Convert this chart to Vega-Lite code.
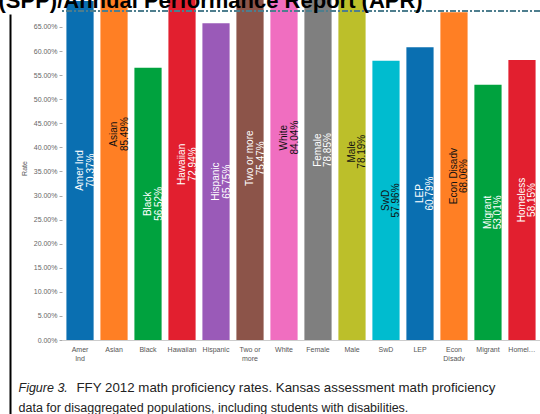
{
  "$schema": "https://vega.github.io/schema/vega-lite/v6.json",
  "width": 478,
  "height": 414,
  "autosize": {"type": "none"},
  "padding": {"left": 62, "top": 0, "right": 0, "bottom": 0},
  "background": "white",
  "config": {"view": {"stroke": null}, "font": "Liberation Sans"},
  "data": {
    "values": [
      {"group": "Amer Ind", "rate": 70.37},
      {"group": "Asian", "rate": 85.49},
      {"group": "Black", "rate": 56.52},
      {"group": "Hawaiian", "rate": 72.94},
      {"group": "Hispanic", "rate": 65.75},
      {"group": "Two or more", "rate": 75.47},
      {"group": "White", "rate": 84.04},
      {"group": "Female", "rate": 78.85},
      {"group": "Male", "rate": 78.19},
      {"group": "SwD", "rate": 57.96},
      {"group": "LEP", "rate": 60.79},
      {"group": "Econ Disadv", "rate": 68.06},
      {"group": "Migrant", "rate": 53.01},
      {"group": "Homeless", "rate": 58.15}
    ]
  },
  "layer": [
    {
      "layer": [
        {
          "mark": {"type": "bar", "clip": true},
          "encoding": {
            "x": {
              "field": "group", "type": "nominal", "sort": null,
              "scale": {"paddingInner": 0.2, "paddingOuter": 0.13},
              "axis": {
                "orient": "bottom", "offset": -74,
                "title": "FFY 2012 math proficiency rates. Kansas assessment math proficiency",
                "labelExpr": "datum.label == 'Amer Ind' ? ['Amer', 'Ind'] : datum.label == 'Two or more' ? ['Two or', 'more'] : datum.label == 'Econ Disadv' ? ['Econ', 'Disadv'] : datum.label",
                "labelAngle": 0, "labelFontSize": 7, "labelColor": "#555", "labelPadding": 5,
                "labelLimit": 30, "labelLineHeight": 9, "ticks": false,
                "domain": true, "domainColor": "#cccccc",
                "titleX": 14, "titleY": 51, "titleAlign": "left", "titleAnchor": "start",
                "titleBaseline": "alphabetic", "titleFontSize": 13.3, "titleFontWeight": "normal",
                "titleColor": "#222"
              }
            },
            "y": {
              "field": "rate", "type": "quantitative",
              "scale": {"domain": [0, 70.6], "range": [340, 0], "nice": false, "clamp": true},
              "axis": {
                "title": "Rate",
                "values": [0, 5, 10, 15, 20, 25, 30, 35, 40, 45, 50, 55, 60, 65],
                "labelExpr": "format(datum.value, '.2f') + '%'",
                "labelFontSize": 7, "labelColor": "#666", "labelPadding": 2,
                "tickSize": 3, "tickColor": "#aaaaaa", "domain": false, "grid": false,
                "titleFontSize": 7, "titleColor": "#555", "titleFontWeight": "normal",
                "titleX": -38, "titleY": 168, "titleAlign": "center", "titleBaseline": "middle", "titleAngle": 270
              }
            },
            "color": {
              "field": "group", "type": "nominal",
              "scale": {
                "domain": ["Amer Ind", "Asian", "Black", "Hawaiian", "Hispanic", "Two or more", "White", "Female", "Male", "SwD", "LEP", "Econ Disadv", "Migrant", "Homeless"],
                "range": ["#0a6fb1", "#ff7f24", "#00a23e", "#e21f2f", "#9a5ab8", "#8c5449", "#f06ec0", "#7f7f7f", "#bcbf2a", "#00bccf", "#0a6fb1", "#ff7f24", "#00a23e", "#e21f2f"]
              },
              "legend": null
            }
          }
        },
        {
          "transform": [
            {"calculate": "datum.rate / 2", "as": "mid"},
            {"calculate": "[datum.group, format(datum.rate, '.2f') + '%']", "as": "lbl"}
          ],
          "mark": {"type": "text", "angle": 270, "align": "center", "baseline": "middle", "fontSize": 10, "lineHeight": 10.5},
          "encoding": {
            "x": {
              "field": "group", "type": "nominal", "sort": null,
              "axis": {
                "orient": "bottom", "offset": -74,
                "title": "FFY 2012 math proficiency rates. Kansas assessment math proficiency",
                "labelExpr": "datum.label == 'Amer Ind' ? ['Amer', 'Ind'] : datum.label == 'Two or more' ? ['Two or', 'more'] : datum.label == 'Econ Disadv' ? ['Econ', 'Disadv'] : datum.label",
                "labelAngle": 0, "labelFontSize": 7, "labelColor": "#555", "labelPadding": 5,
                "labelLimit": 30, "labelLineHeight": 9, "ticks": false,
                "domain": true, "domainColor": "#cccccc",
                "titleX": 14, "titleY": 51, "titleAlign": "left", "titleAnchor": "start",
                "titleBaseline": "alphabetic", "titleFontSize": 13.3, "titleFontWeight": "normal",
                "titleColor": "#222"
              }
            },
            "y": {
              "field": "mid", "type": "quantitative",
              "scale": {"domain": [0, 70.6], "range": [340, 0], "nice": false, "clamp": true},
              "axis": {
                "title": "Rate",
                "values": [0, 5, 10, 15, 20, 25, 30, 35, 40, 45, 50, 55, 60, 65],
                "labelExpr": "format(datum.value, '.2f') + '%'",
                "labelFontSize": 7, "labelColor": "#666", "labelPadding": 2,
                "tickSize": 3, "tickColor": "#aaaaaa", "domain": false, "grid": false,
                "titleFontSize": 7, "titleColor": "#555", "titleFontWeight": "normal",
                "titleX": -38, "titleY": 168, "titleAlign": "center", "titleBaseline": "middle", "titleAngle": 270
              }
            },
            "text": {"field": "lbl"},
            "color": {
              "condition": {"test": "indexof(['Asian', 'White', 'Male', 'SwD', 'Econ Disadv'], datum.group) >= 0", "value": "#111111"},
              "value": "#ffffff"
            }
          }
        },
        {
          "mark": {"type": "rule", "color": "#4f7f8f", "strokeDash": [6, 2, 2, 2], "strokeWidth": 1},
          "encoding": {
            "y": {
              "datum": 68.3, "type": "quantitative",
              "scale": {"domain": [0, 70.6], "range": [340, 0], "nice": false, "clamp": true},
              "axis": {
                "title": "Rate",
                "values": [0, 5, 10, 15, 20, 25, 30, 35, 40, 45, 50, 55, 60, 65],
                "labelExpr": "format(datum.value, '.2f') + '%'",
                "labelFontSize": 7, "labelColor": "#666", "labelPadding": 2,
                "tickSize": 3, "tickColor": "#aaaaaa", "domain": false, "grid": false,
                "titleFontSize": 7, "titleColor": "#555", "titleFontWeight": "normal",
                "titleX": -38, "titleY": 168, "titleAlign": "center", "titleBaseline": "middle", "titleAngle": 270
              }
            }
          }
        }
      ]
    },
    {
      "mark": {"type": "rule", "opacity": 0},
      "encoding": {
        "y": {
          "datum": 0, "type": "quantitative",
          "scale": {"domain": [0, 1], "range": [414, 14], "nice": false},
          "axis": {
            "orient": "left", "offset": 52, "domainColor": "#000000", "domainWidth": 2,
            "ticks": false, "labels": false, "grid": false,
            "title": "Figure 3.", "titleAngle": 0, "titleX": 8, "titleY": 391,
            "titleAlign": "left", "titleBaseline": "alphabetic", "titleFontSize": 12.5,
            "titleFontStyle": "italic", "titleFontWeight": "normal", "titleColor": "#222"
          }
        }
      }
    },
    {
      "mark": {"type": "rule", "opacity": 0},
      "encoding": {
        "y": {
          "datum": 0, "type": "quantitative",
          "scale": {"domain": [0, 1], "range": [414, 14], "nice": false},
          "axis": {
            "orient": "left", "offset": 52, "domain": false,
            "ticks": false, "labels": false, "grid": false,
            "title": "data for disaggregated populations, including students with disabilities.",
            "titleAngle": 0, "titleX": 8, "titleY": 411,
            "titleAlign": "left", "titleBaseline": "alphabetic", "titleFontSize": 12.5,
            "titleFontWeight": "normal", "titleColor": "#222", "titleLimit": 600
          }
        }
      }
    },
    {
      "mark": {"type": "rule", "opacity": 0},
      "encoding": {
        "y": {
          "datum": 0, "type": "quantitative",
          "scale": {"domain": [0, 1], "range": [414, 14], "nice": false},
          "axis": {
            "orient": "left", "offset": 52, "domain": false,
            "ticks": false, "labels": false, "grid": false, "zindex": 2,
            "title": "(SPP)/Annual Performance Report (APR)",
            "titleAngle": 0, "titleX": -12, "titleY": 7,
            "titleAlign": "left", "titleBaseline": "alphabetic", "titleFontSize": 22,
            "titleFontWeight": "bold", "titleColor": "#000000", "titleLimit": 800
          }
        }
      }
    }
  ],
  "resolve": {"scale": {"y": "independent"}}
}
